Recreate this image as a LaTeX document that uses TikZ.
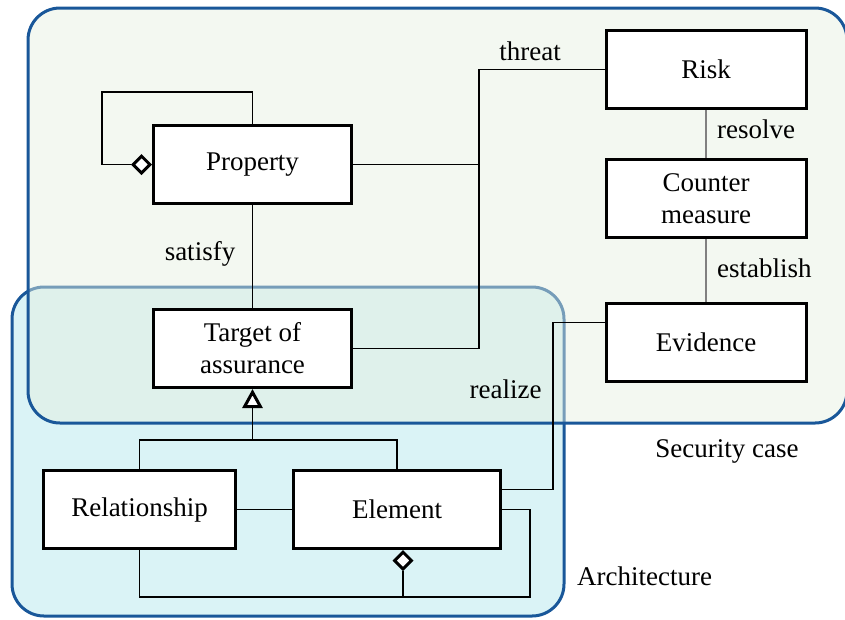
\documentclass[tikz,border=0pt]{standalone}
\usepackage{fontspec}
\setmainfont{Liberation Serif}
\newfontfamily\labelfont{Liberation Serif}
\usetikzlibrary{arrows.meta}
\definecolor{frameblue}{RGB}{25,87,153}
\definecolor{secfill}{RGB}{229,240,224}
\definecolor{archfill}{RGB}{218,243,246}

\begin{document}
\begin{tikzpicture}[x=1pt,y=-1pt,
  box/.style={draw, line width=3pt, fill=white, inner sep=0pt, align=center,
    minimum height=78pt, font=\labelfont\fontsize{27}{32}\selectfont},
  conn/.style={line width=1.2pt},
  soft/.style={line width=1.2pt, draw=black!50},
  lbl/.style={font=\labelfont\fontsize{27}{32}\selectfont, inner sep=0pt, anchor=base},
  group/.style={line width=3pt, draw=frameblue, rounded corners=32pt},
  agg/.style={-{Diamond[open,length=21pt,width=21pt,line width=3pt,fill=white]}},
  gen/.style={-{Triangle[open,length=19pt,width=20pt,line width=3pt,fill=white]}}]

\useasboundingbox (0,0) rectangle (845,619);

% package areas
\draw[group, fill=archfill] (12,287) rectangle (564,616);
\draw[group, fill=secfill, fill opacity=0.46] (28,8) rectangle (847,423);

% classes
\node[box, minimum width=198pt] (prop) at (252.5,164.5) {Property};
\node[box, minimum width=198pt] (toa)  at (252.5,348.5) {Target of\\assurance};
\node[box, minimum width=200pt] (risk) at (706,69.5) {Risk};
\node[box, minimum width=200pt] (cm)   at (706,198.5) {Counter\\measure};
\node[box, minimum width=200pt] (ev)   at (706,342.5) {Evidence};
\node[box, minimum width=192pt] (rel)  at (139.5,509.5) {Relationship};
\node[box, minimum width=207pt] (el)   at (397,509.5) {Element};

% helper points for routed connectors
\coordinate (thr) at (479,0);
\coordinate (g)   at (252.5,440);
\coordinate (a)   at (403,597);

% Property self-aggregation
\draw[conn, agg] (prop.north) -- ++(0,-32) -| ([xshift=-50pt]prop.west) -- (prop.west);

% threat association
\draw[conn] (risk.west) -| (thr |- toa.east) -- (toa.east);
\draw[conn] (prop.east) -- (prop.east -| thr);

% resolve / establish
\draw[soft] (risk.south) -- (cm.north);
\draw[soft] (cm.south) -- (ev.north);

% satisfy
\draw[conn] (prop.south) -- (toa.north);

% generalization
\draw[conn] (rel.north) |- (g) -| (el.north);
\draw[conn, gen] (g) -- (toa.south);

% relationship -- element
\draw[conn] (rel.east) -- (el.west);

% element composition
\draw[conn] (rel.south) |- (a);
\draw[conn, agg] (el.east) -- ++(28,0) |- (a) -- (a |- el.south);

% realize
\draw[conn] ([yshift=20pt]el.east) -- ++(51,0) |- ([yshift=20pt]ev.west);

% labels
\node[lbl] (tthreat)  at (530,60)    {threat};
\node[lbl, anchor=base west] (tresolve) at (717,138) {resolve};
\node[lbl, anchor=base west] (testab)   at (717,277) {establish};
\node[lbl] (tsatisfy) at (200,260)   {satisfy};
\node[lbl] (trealize) at (505.5,398) {realize};
\node[lbl] (tsec)     at (727,457)   {Security case};
\node[lbl] (tarch)    at (644.5,585) {Architecture};
\end{tikzpicture}
\end{document}
